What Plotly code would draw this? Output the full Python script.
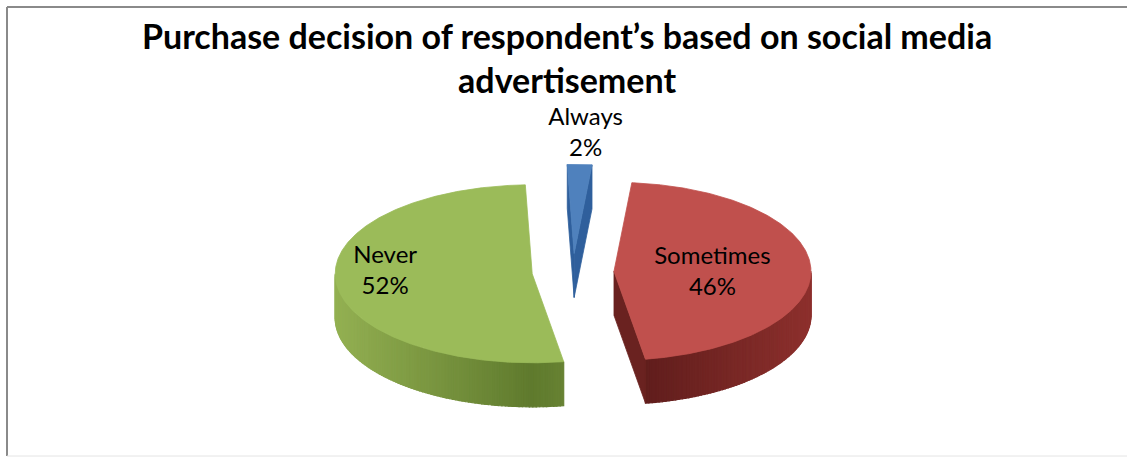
import numpy as np
import plotly.graph_objects as go

# Survey results
categories = ["Always", "Sometimes", "Never"]
shares = [2, 46, 52]

title_text = "Purchase decision of respondent’s based on social media<br>advertisement"

# Styling
top_colors = ["#4F81BD", "#C0504D", "#9BBB59"]
wall_light = ["#4475b0", "#8d302d", "#93b052"]
wall_dark = ["#2f5a8f", "#581a19", "#5f7a2d"]
cut_colors = ["#2f5f9c", "#6a2220", "#6f8a37"]
label_frac = [1.36, 0.5, 0.75]
label_dx = [4, 0, 0]
label_dy = [2, 4, -8]

# Pie geometry (pixel space)
W, H = 1127, 457
CX, CY = 573, 272
RX, RY = 197, 89
DEPTH = 44
EXPLODE = 41
ROT = -2.0


def hex2rgb(h):
    h = h.lstrip("#")
    return np.array([int(h[i:i + 2], 16) for i in (0, 2, 4)], dtype=float)


def mix(c0, c1, f):
    c = hex2rgb(c0) * (1 - f) + hex2rgb(c1) * f
    return "rgb(%d,%d,%d)" % tuple(np.round(c).astype(int))


def rim(t_deg, ox, oy, r=1.0):
    t = np.radians(t_deg)
    return ox + r * RX * np.sin(t), oy - r * RY * np.cos(t)


fig = go.Figure()

total = float(sum(shares))
starts = []
acc = 0.0
for s in shares:
    starts.append(ROT + 360.0 * acc / total)
    acc += s

slices = []
for i, s in enumerate(shares):
    a0 = starts[i]
    a1 = a0 + 360.0 * s / total
    mid = 0.5 * (a0 + a1)
    m = np.radians(mid)
    ox = CX + EXPLODE * np.sin(m)
    oy = CY - EXPLODE * (RY / RX) * np.cos(m)
    slices.append((a0, a1, mid, ox, oy))


def poly(xs, ys, color, lw=0.8):
    fig.add_trace(go.Scatter(
        x=list(xs) + [xs[0]], y=list(ys) + [ys[0]],
        mode="lines", fill="toself", fillcolor=color,
        line=dict(color=color, width=lw),
        hoverinfo="skip", showlegend=False))


# Side walls and cut faces first
for i, (a0, a1, mid, ox, oy) in enumerate(slices):
    # outer wall: the front half of the rim (90..270 degrees)
    lo, hi = max(a0, 90.0), min(a1, 270.0)
    if hi > lo:
        edges = np.linspace(lo, hi, max(2, int(hi - lo) + 1))
        for t0, t1 in zip(edges[:-1], edges[1:]):
            x0, y0 = rim(t0, ox, oy)
            x1, y1 = rim(t1, ox, oy)
            f = abs(np.sin(np.radians(0.5 * (t0 + t1))))
            col = mix(wall_dark[i], wall_light[i], f)
            poly([x0, x1, x1, x0], [y0, y1, y1 + DEPTH, y0 + DEPTH], col, 1.2)
    # radial cut faces facing the viewer
    for edge, normal in ((a0, a0 - 90.0), (a1, a1 + 90.0)):
        if np.cos(np.radians(normal)) < -0.02:
            ex, ey = rim(edge, ox, oy)
            poly([ox, ex, ex, ox], [oy, ey, ey + DEPTH, oy + DEPTH], cut_colors[i])

# Top faces
for i, (a0, a1, mid, ox, oy) in enumerate(slices):
    ts = np.linspace(a0, a1, max(3, int((a1 - a0) / 0.5) + 1))
    xs, ys = rim(ts, ox, oy)
    poly([ox] + list(xs), [oy] + list(ys), top_colors[i])

# Category labels
for i, (a0, a1, mid, ox, oy) in enumerate(slices):
    lx, ly = rim(mid, ox, oy, label_frac[i])
    fig.add_trace(go.Scatter(
        x=[lx + label_dx[i]], y=[ly + label_dy[i]], mode="text",
        text=["%s<br>%d%%" % (categories[i], shares[i])],
        textposition="middle center",
        textfont=dict(family="Lato, Carlito, sans-serif", size=24, color="#000000"),
        hoverinfo="skip", showlegend=False))

fig.update_layout(
    width=W, height=H,
    margin=dict(l=0, r=0, t=0, b=0),
    paper_bgcolor="white", plot_bgcolor="white",
    xaxis=dict(range=[0, W], visible=False, fixedrange=True),
    yaxis=dict(range=[H, 0], visible=False, fixedrange=True),
    annotations=[dict(
        text=title_text, xref="x", yref="y", x=567, y=57,
        xanchor="center", yanchor="middle", showarrow=False, align="center",
        font=dict(family="Lato, Carlito, sans-serif", size=34, color="#000000", weight="bold"))],
    shapes=[
        dict(type="line", xref="x", yref="y", x0=7, x1=W, y0=7, y1=7,
             line=dict(color="#8a8a8a", width=2)),
        dict(type="line", xref="x", yref="y", x0=7, x1=7, y0=7, y1=456,
             line=dict(color="#8a8a8a", width=2)),
        dict(type="line", xref="x", yref="y", x0=7, x1=W, y0=456, y1=456,
             line=dict(color="#e4e4e4", width=1)),
    ],
)

fig.write_html("out.html")
